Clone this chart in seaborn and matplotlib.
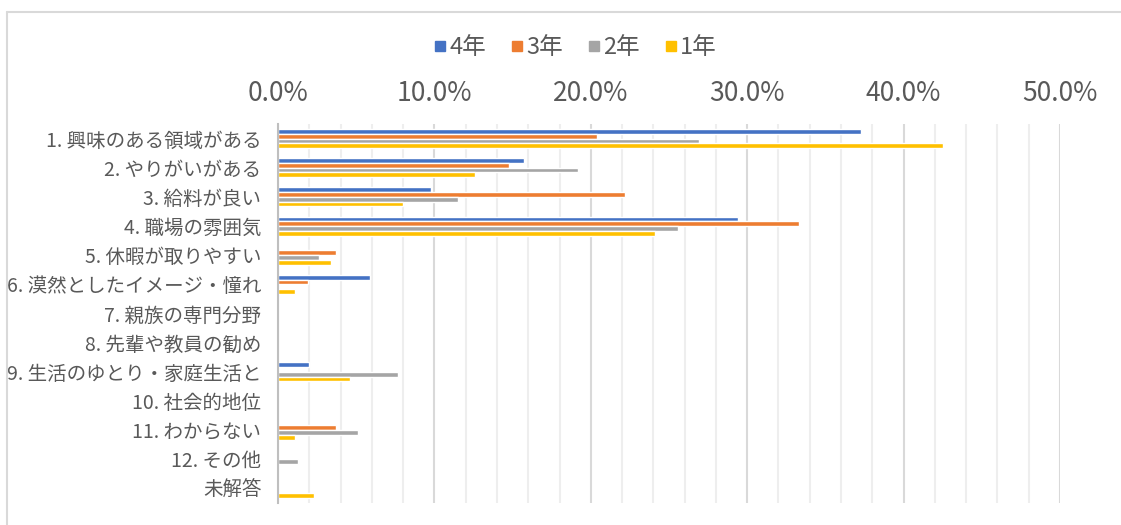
import pandas as pd
import matplotlib.pyplot as plt
import seaborn as sns
from matplotlib.ticker import MultipleLocator, PercentFormatter
from matplotlib.lines import Line2D

# 回答項目と学年ごとの割合(%)
items = [
    "1. 興味のある領域がある",
    "2. やりがいがある",
    "3. 給料が良い",
    "4. 職場の雰囲気",
    "5. 休暇が取りやすい",
    "6. 漠然としたイメージ・憧れ",
    "7. 親族の専門分野",
    "8. 先輩や教員の勧め",
    "9. 生活のゆとり・家庭生活と",
    "10. 社会的地位",
    "11. わからない",
    "12. その他",
    "未解答",
]
years = ["4年", "3年", "2年", "1年"]
pct_4 = [37.3, 15.7, 9.8, 29.4, 0.0, 5.9, 0.0, 0.0, 2.0, 0.0, 0.0, 0.0, 0.0]
pct_3 = [20.4, 14.8, 22.2, 33.3, 3.7, 1.9, 0.0, 0.0, 0.0, 0.0, 3.7, 0.0, 0.0]
pct_2 = [26.9, 19.2, 11.5, 25.6, 2.6, 0.0, 0.0, 0.0, 7.7, 0.0, 5.1, 1.3, 0.0]
pct_1 = [42.5, 12.6, 8.0, 24.1, 3.4, 1.1, 0.0, 0.0, 4.6, 0.0, 1.1, 0.0, 2.3]
colors = ["#4472C4", "#ED7D31", "#A5A5A5", "#FFC000"]

rows = []
for year, vals in zip(years, [pct_4, pct_3, pct_2, pct_1]):
    for item, v in zip(items, vals):
        rows.append({"item": item, "year": year, "pct": v})
df = pd.DataFrame(rows)

sns.set_style("white")
plt.rcParams["font.family"] = ["Noto Sans CJK JP", "DejaVu Sans"]
text_col = "#595959"

fig = plt.figure(figsize=(11.21, 5.25), dpi=100)
ax = fig.add_axes([278 / 1121, 1 - 503 / 525, (1060 - 278) / 1121, (503 - 124) / 525])

sns.barplot(data=df, y="item", x="pct", hue="year", order=items, hue_order=years,
            palette=colors, orient="h", width=0.65, ax=ax, saturation=1, legend=False)

ax.set_xlim(0, 50)
ax.xaxis.set_major_locator(MultipleLocator(10))
ax.xaxis.set_minor_locator(MultipleLocator(2))
ax.xaxis.set_major_formatter(PercentFormatter(decimals=1))
ax.xaxis.tick_top()
ax.grid(axis="x", which="major", color="#d9d9d9", linewidth=1.5, zorder=0)
ax.grid(axis="x", which="minor", color="#eeeeee", linewidth=1.5, zorder=0)
ax.set_axisbelow(True)
ax.tick_params(axis="x", which="both", length=0, pad=12, labelsize=19, labelcolor=text_col)
ax.tick_params(axis="y", length=0, pad=12, labelsize=14, labelcolor=text_col)
ax.set_xlabel("")
ax.set_ylabel("")
for s in ["top", "right", "bottom"]:
    ax.spines[s].set_visible(False)
ax.spines["left"].set_color("#bfbfbf")
ax.spines["left"].set_linewidth(1.5)

# 凡例は小さい四角マーカーで
handles = [Line2D([], [], marker="s", linestyle="", color=c, markersize=7) for c in colors]
fig.legend(handles, years, ncol=4, loc="center", bbox_to_anchor=(0.513, 1 - 48 / 525),
           frameon=False, handlelength=0.6, handletextpad=0.1,
           columnspacing=1.0, prop={"size": 17}, labelcolor=text_col)

# グラフ枠(上と左だけ見える)
fig.add_artist(Line2D([7 / 1121, 7 / 1121], [0, 1 - 12 / 525], transform=fig.transFigure,
                      color="#d9d9d9", linewidth=1.5))
fig.add_artist(Line2D([7 / 1121, 1], [1 - 12 / 525, 1 - 12 / 525], transform=fig.transFigure,
                      color="#d9d9d9", linewidth=1.5))

fig.savefig("out.png", dpi=100)
